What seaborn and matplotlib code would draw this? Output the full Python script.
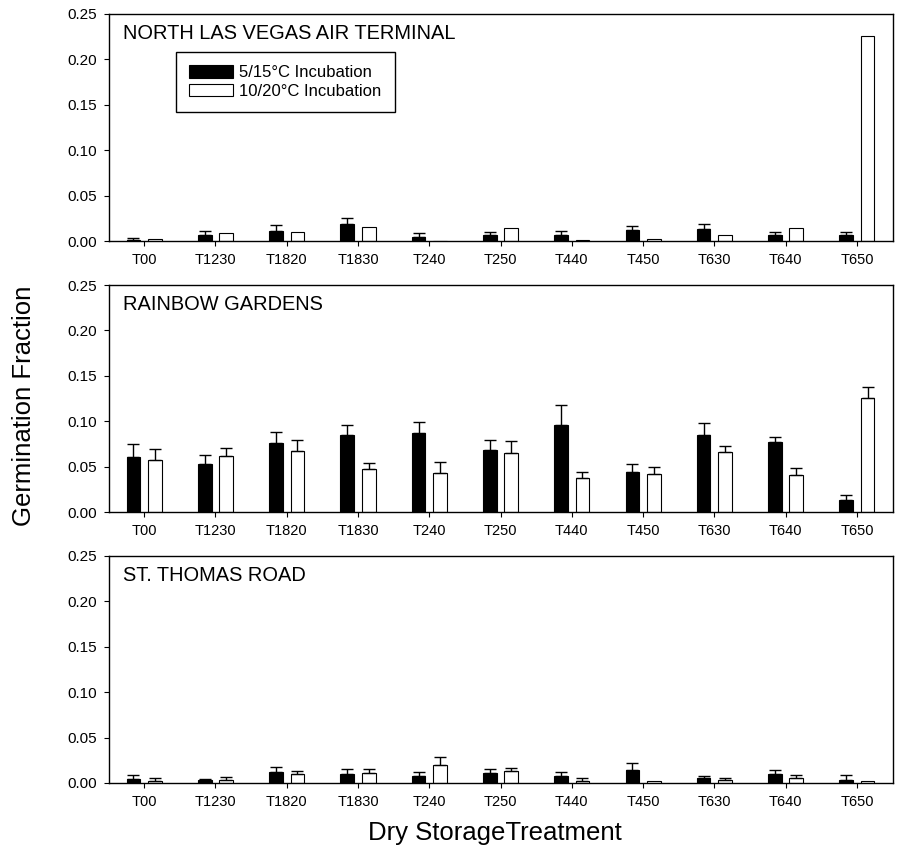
import numpy as np
import pandas as pd
import matplotlib
matplotlib.use('Agg')
import matplotlib.pyplot as plt
from matplotlib.patches import Patch
import seaborn as sns

tratamentos = ['T00', 'T1230', 'T1820', 'T1830', 'T240', 'T250',
               'T440', 'T450', 'T630', 'T640', 'T650']
incubacoes = ['5/15°C Incubation', '10/20°C Incubation']
locais = ['NORTH LAS VEGAS AIR TERMINAL', 'RAINBOW GARDENS', 'ST. THOMAS ROAD']

# valores (fracao germinada) e erro padrao (so a parte de cima)
nlv_frio = [0.0015, 0.0068, 0.0113, 0.0188, 0.0045, 0.0064, 0.0064, 0.0116, 0.0128, 0.0068, 0.0068]
nlv_frio_err = [0.0015, 0.0037, 0.0060, 0.0064, 0.0038, 0.0030, 0.0041, 0.0053, 0.0063, 0.0030, 0.0030]
nlv_quente = [0.0020, 0.0083, 0.0098, 0.0154, 0.0, 0.0146, 0.0011, 0.0026, 0.0068, 0.0139, 0.2258]
nlv_quente_err = [np.nan] * 11

rg_frio = [0.0603, 0.0533, 0.0765, 0.0850, 0.0875, 0.0688, 0.0956, 0.0438, 0.0850, 0.0776, 0.0129]
rg_frio_err = [0.0144, 0.0099, 0.0115, 0.0113, 0.0118, 0.0107, 0.0221, 0.0088, 0.0125, 0.0048, 0.0062]
rg_quente = [0.0570, 0.0618, 0.0677, 0.0474, 0.0434, 0.0655, 0.0372, 0.0420, 0.0662, 0.0405, 0.1260]
rg_quente_err = [0.0125, 0.0092, 0.0121, 0.0070, 0.0114, 0.0132, 0.0069, 0.0073, 0.0070, 0.0081, 0.0120]

st_frio = [0.0048, 0.0030, 0.0126, 0.0096, 0.0081, 0.0115, 0.0081, 0.0148, 0.0052, 0.0100, 0.0037]
st_frio_err = [0.0037, 0.0010, 0.0052, 0.0056, 0.0037, 0.0040, 0.0037, 0.0074, 0.0026, 0.0048, 0.0048]
st_quente = [0.0022, 0.0033, 0.0096, 0.0111, 0.0200, 0.0130, 0.0026, 0.0026, 0.0030, 0.0052, 0.0019]
st_quente_err = [0.0030, 0.0030, 0.0034, 0.0041, 0.0085, 0.0033, 0.0033, np.nan, 0.0029, 0.0037, np.nan]

paineis = [
    (nlv_frio, nlv_frio_err, nlv_quente, nlv_quente_err),
    (rg_frio, rg_frio_err, rg_quente, rg_quente_err),
    (st_frio, st_frio_err, st_quente, st_quente_err),
]

sns.set_style("ticks", {"text.color": "black", "axes.labelcolor": "black",
                        "xtick.color": "black", "ytick.color": "black",
                        "axes.edgecolor": "black"})
plt.rcParams['font.family'] = ['Liberation Sans', 'DejaVu Sans']
plt.rcParams['axes.linewidth'] = 1.0

fig = plt.figure(figsize=(8.99, 8.48), dpi=100)
esquerda, largura, altura = 0.1207, 0.8721, 0.2677
bases = [0.7158, 0.3962, 0.0767]

for i, (frio, frio_err, quente, quente_err) in enumerate(paineis):
    ax = fig.add_axes([esquerda, bases[i], largura, altura])
    dados = pd.DataFrame({
        'tratamento': tratamentos * 2,
        'valor': list(frio) + list(quente),
        'incubacao': [incubacoes[0]] * 11 + [incubacoes[1]] * 11,
    })
    sns.barplot(data=dados, x='tratamento', y='valor', hue='incubacao',
                hue_order=incubacoes, order=tratamentos, palette=['black', 'white'],
                edgecolor='black', linewidth=0.8, width=0.6, gap=0.36,
                errorbar=None, legend=False, ax=ax)

    # barras de erro so para cima
    for cont, erros in zip(ax.containers, [frio_err, quente_err]):
        xs, ys, es = [], [], []
        for barra, e in zip(cont.patches, erros):
            if np.isnan(e):
                continue
            xs.append(barra.get_x() + barra.get_width() / 2)
            ys.append(barra.get_height())
            es.append(e)
        if xs:
            ax.errorbar(xs, ys, yerr=[np.zeros(len(es)), es], fmt='none',
                        ecolor='black', elinewidth=1.0, capsize=4.6, capthick=1.0)

    ax.set_xlim(-0.5, 10.5)
    ax.set_ylim(0, 0.25)
    ax.set_yticks(np.arange(0, 0.251, 0.05))
    ax.set_yticklabels(['%.2f' % v for v in np.arange(0, 0.251, 0.05)])
    ax.set_xlabel('')
    ax.set_ylabel('')
    ax.tick_params(axis='y', direction='out', length=3.6, width=0.8, pad=4.5, labelsize=11)
    ax.tick_params(axis='x', direction='out', length=3.6, width=0.8, pad=5, labelsize=10.5)
    for lado in ['top', 'right', 'left', 'bottom']:
        ax.spines[lado].set_visible(True)
        ax.spines[lado].set_color('black')
    ax.text(0.018, 0.915, locais[i], transform=ax.transAxes, fontsize=14.4,
            va='center', ha='left', color='black')

    if i == 0:
        alças = [Patch(facecolor='black', edgecolor='black', linewidth=0.8, label=incubacoes[0]),
                 Patch(facecolor='white', edgecolor='black', linewidth=0.8, label=incubacoes[1])]
        leg = ax.legend(handles=alças, loc='upper left', bbox_to_anchor=(0.086, 0.833),
                        borderaxespad=0, fontsize=12, frameon=True, fancybox=False,
                        edgecolor='black', framealpha=1, handlelength=2.6, handleheight=0.8,
                        handletextpad=0.4, labelspacing=0.2, borderpad=0.8)
        leg.get_frame().set_linewidth(1.0)

fig.text(0.027, 0.522, 'Germination Fraction', rotation=90, fontsize=18.5,
         va='center', ha='center', color='black')
fig.text(0.551, 0.0177, 'Dry StorageTreatment', fontsize=18.5,
         va='center', ha='center', color='black')

plt.savefig('out.png', dpi=100)
